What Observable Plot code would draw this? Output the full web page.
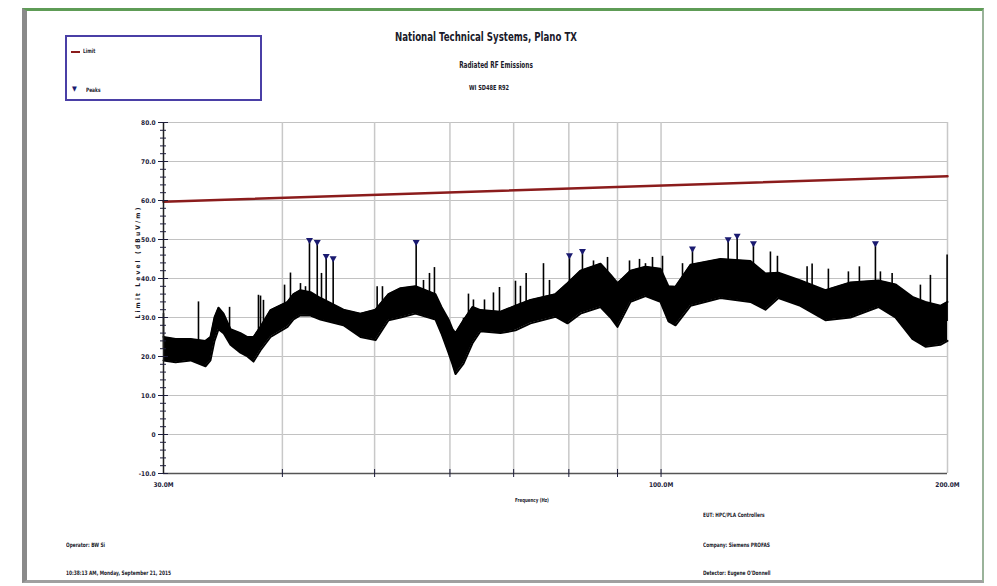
<!DOCTYPE html>
<html>
<head>
<meta charset="utf-8">
<script src="https://cdn.jsdelivr.net/npm/d3@7"></script>
<script src="https://cdn.jsdelivr.net/npm/@observablehq/plot@0.6"></script>
<style>
  body { margin: 0; background: white; }
  #wrap { position: relative; width: 997px; height: 586px; overflow: hidden; background: white;
          font-family: "DejaVu Sans", sans-serif; font-stretch: condensed; font-weight: bold; color: #1a1a2a; }
  .t { position: absolute; white-space: nowrap; line-height: 1; }
  .c { transform: translateX(-50%) scaleX(0.8); }
  .l { transform-origin: 0 0; transform: scaleX(0.8); }
  #plot { position: absolute; left: 0; top: 0; }
  #frame { position: absolute; left: 22px; top: 8px; width: 962px; height: 575px; box-sizing: border-box;
           border-top: 3px solid #5e9c56; border-left: 5px solid #8a8a8a; border-right: 2px solid #9ab39a; border-bottom: 3px solid #a0a0a0; }
  #legend { position: absolute; left: 65px; top: 35px; width: 197px; height: 66px; box-sizing: border-box; border: 2px solid #4a3fa6; background: white; }
</style>
</head>
<body>
<div id="wrap">
  <div id="plot"></div>
  <div id="frame"></div>
  <div id="legend">
    <div style="position:absolute;left:4px;top:14px;width:9px;height:2px;background:#8b1c1c"></div>
    <div class="t l" style="left:16px;top:11px;font-size:6px">Limit</div>
    <div class="t" style="left:5px;top:49px;font-size:7px;color:#1a1a70">▼</div>
    <div class="t l" style="left:19px;top:50px;font-size:6px">Peaks</div>
  </div>
  <div class="t c" style="left:486px;top:31px;font-size:12px">National Technical Systems, Plano TX</div>
  <div class="t c" style="left:496px;top:62px;font-size:8px">Radiated RF Emissions</div>
  <div class="t c" style="left:489px;top:85px;font-size:7px">WI SD48E R92</div>
  <div class="t" style="left:138px;top:262px;transform:translate(-50%,-50%) rotate(-90deg);font-size:6.5px;letter-spacing:2.2px">Limit Level (dBuV/m)</div>
  <div class="t c" style="left:532px;top:498px;font-size:5.5px">Frequency (Hz)</div>
  <div class="t l" style="left:703px;top:512px;font-size:6px">EUT: HPC/PLA Controllers</div>
  <div class="t l" style="left:66px;top:542px;font-size:6px">Operator: BW Si</div>
  <div class="t l" style="left:703px;top:542px;font-size:6px">Company: Siemens PROFAS</div>
  <div class="t l" style="left:66px;top:570px;font-size:6px">10:38:13 AM, Monday, September 21, 2015</div>
  <div class="t l" style="left:703px;top:570px;font-size:6px">Detector: Eugene O'Donnell</div>
</div>
<script>
// ---- data (frequencies in MHz, levels in dBuV/m) ----
const envFreq = [30.00, 30.89, 32.03, 33.21, 33.61, 33.94, 34.27, 34.69, 35.28, 36.14, 36.76, 37.30, 37.94, 38.87, 40.50, 41.09, 41.79, 42.82, 43.86, 46.37, 48.32, 50.11, 51.71, 53.23, 55.20, 57.93, 58.78, 59.79, 60.37, 60.81, 62.00, 63.36, 64.60, 67.80, 70.31, 72.91, 77.45, 79.73, 82.28, 86.37, 88.49, 90.00, 92.88, 96.30, 99.86, 101.82, 103.56, 107.39, 115.46, 124.15, 128.74, 132.85, 140.10, 148.84, 158.12, 169.21, 176.32, 183.72, 189.59, 196.59, 200.0];
const envHigh = [25, 24.5, 24.5, 24, 25, 30, 32.5, 31, 27, 26, 25, 25, 27.6, 31.9, 34, 36, 37, 36.5, 35, 32, 31, 32, 36, 37.5, 38, 36, 32.7, 29.5, 27, 26, 29.3, 32.7, 31.9, 31.5, 33, 34.5, 36, 38.8, 42, 43.8, 41, 38.8, 42, 43, 42.5, 38, 37.9, 43.5, 45, 44.5, 41.3, 41.5, 39.5, 37, 39, 39.5, 38.5, 35.3, 34, 33, 34];
const envLow = [19, 18.5, 19, 17.5, 19, 24, 27, 26, 23, 21, 20, 18.7, 21.6, 25, 27.6, 29.5, 30.6, 30.5, 29.5, 28, 25, 24.2, 29.3, 30, 31, 29.5, 25.9, 21, 18, 15.5, 18.2, 23.4, 26.5, 26, 26.7, 28.5, 30.2, 28.5, 31, 32.7, 30, 27.6, 34, 35.5, 34, 29, 28, 33, 35, 34, 32, 35, 33, 29.3, 30, 32.7, 30, 24.5, 22.5, 23, 24];

const spikeFreq = [30.00, 32.65, 35.20, 37.75, 37.94, 38.21, 40.21, 40.79, 41.79, 42.30, 42.71, 43.52, 43.97, 44.47, 45.23, 50.31, 50.96, 51.71, 55.29, 56.28, 57.10, 57.79, 62.00, 62.75, 63.51, 65.23, 66.66, 67.64, 70.31, 71.16, 72.15, 75.24, 76.34, 80.12, 82.68, 84.92, 87.85, 92.65, 94.92, 96.30, 97.95, 100.35, 105.33, 107.90, 117.63, 120.22, 123.59, 125.05, 130.30, 132.53, 142.39, 144.13, 149.92, 157.36, 161.60, 167.99, 170.03, 174.92, 187.31, 191.90, 199.81];
const spikeLevel = [31, 34, 32.6, 35.7, 35.5, 34.4, 38.3, 41.4, 38.7, 37.9, 49.6, 49.1, 41.3, 45.5, 44.9, 37.9, 37.9, 34.9, 49.1, 39.5, 41.3, 42.8, 29.8, 36, 34.5, 34.5, 36.3, 37.7, 39.3, 38, 41.3, 43.8, 39.5, 45.7, 46.8, 44.5, 45.4, 44.5, 44.9, 43.8, 45.4, 45.7, 43.8, 47.4, 49.8, 50.7, 44.3, 48.8, 46.8, 45.7, 43, 43.7, 42.4, 41.7, 43, 48.8, 41.7, 41.3, 38.3, 40.8, 46];

const peakFreq = [42.71, 43.52, 44.47, 45.23, 55.29, 80.12, 82.68, 107.90, 117.63, 120.22, 125.05, 167.99];
const peakLevel = [49.6, 49.1, 45.5, 44.9, 49.1, 45.7, 46.8, 47.4, 49.8, 50.7, 48.8, 48.8];

const limitFreq = [30, 200];
const limitLevel = [59.7, 66.2];

const yTicks = [-10, 0, 10, 20, 30, 40, 50, 60, 70, 80];
const yMinorTicks = d3.range(-10, 80.1, 2);
const xLabelTicks = [30, 100, 200];
const xGridTicks = [40, 50, 60, 70, 80, 90, 100, 200];
const xTickMarks = [40, 50, 60, 70, 80, 90, 100];

// ---- tables ----
const env = envFreq.map((f, i) => ({f, hi: envHigh[i], lo: envLow[i]}));
function midAt(f) {
  for (let i = 0; i < envFreq.length - 1; i++) {
    if (f >= envFreq[i] && f <= envFreq[i + 1]) {
      const t = Math.log(f / envFreq[i]) / Math.log(envFreq[i + 1] / envFreq[i]);
      const a = (envHigh[i] + envLow[i]) / 2, b = (envHigh[i + 1] + envLow[i + 1]) / 2;
      return a + t * (b - a);
    }
  }
  return (envHigh[envHigh.length - 1] + envLow[envLow.length - 1]) / 2;
}
const spikes = spikeFreq.map((f, i) => ({f, level: spikeLevel[i], base: midAt(f)}));
const peaks = peakFreq.map((f, i) => ({f, level: peakLevel[i]}));
const limit = limitFreq.map((f, i) => ({f, level: limitLevel[i]}));
const noLabel = () => "";

const chart = Plot.plot({
  width: 997,
  height: 586,
  marginLeft: 163,
  marginRight: 50,
  marginTop: 122,
  marginBottom: 113,
  style: {background: "transparent", fontFamily: '"DejaVu Sans", sans-serif', fontStretch: "condensed", fontSize: "6.5px", fontWeight: "bold", color: "#1d1d3a"},
  x: {type: "log", domain: [30, 200]},
  y: {domain: [-10, 80]},
  marks: [
    Plot.gridY({ticks: yTicks, stroke: "#c2c2c2", strokeOpacity: 1, strokeWidth: 1}),
    Plot.gridX({ticks: xGridTicks, stroke: "#c8c8c8", strokeOpacity: 1, strokeWidth: 1.5}),
    Plot.line(limit, {x: "f", y: "level", stroke: "#8b1c1c", strokeWidth: 2.5}),
    Plot.areaY(env, {x: "f", y1: "lo", y2: "hi", fill: "black"}),
    Plot.line(env, {x: "f", y: "hi", stroke: "black", strokeWidth: 2}),
    Plot.line(env, {x: "f", y: "lo", stroke: "black", strokeWidth: 2}),
    Plot.ruleX(spikes, {x: "f", y1: "base", y2: "level", stroke: "black", strokeWidth: 1.6}),
    Plot.dot(peaks, {x: "f", y: "level", symbol: "triangle", r: 2.6, rotate: 180, fill: "#1a1a70", stroke: "none", dy: -1}),
    Plot.ruleY([-10], {stroke: "#555", strokeWidth: 1.5}),
    Plot.ruleX([30], {stroke: "#222", strokeWidth: 1.5}),
    Plot.axisY({ticks: yTicks, tickSize: 5, tickPadding: 3, label: null, tickFormat: d => d === 0 ? "0" : d.toFixed(1)}),
    Plot.axisY({ticks: yTicks, tickSize: -5, label: null, tickFormat: noLabel}),
    Plot.axisY({ticks: yMinorTicks, tickSize: 3, label: null, tickFormat: noLabel}),
    Plot.axisY({ticks: yMinorTicks, tickSize: -3, label: null, tickFormat: noLabel}),
    Plot.axisX({ticks: xTickMarks, tickSize: 4, label: null, tickFormat: noLabel}),
    Plot.axisX({ticks: xTickMarks, tickSize: -4, label: null, tickFormat: noLabel}),
    Plot.axisX({ticks: xLabelTicks, tickSize: 0, tickPadding: 9, label: null, tickFormat: d => d.toFixed(1) + "M"})
  ]
});
document.getElementById("plot").appendChild(chart);
</script>
</body>
</html>
